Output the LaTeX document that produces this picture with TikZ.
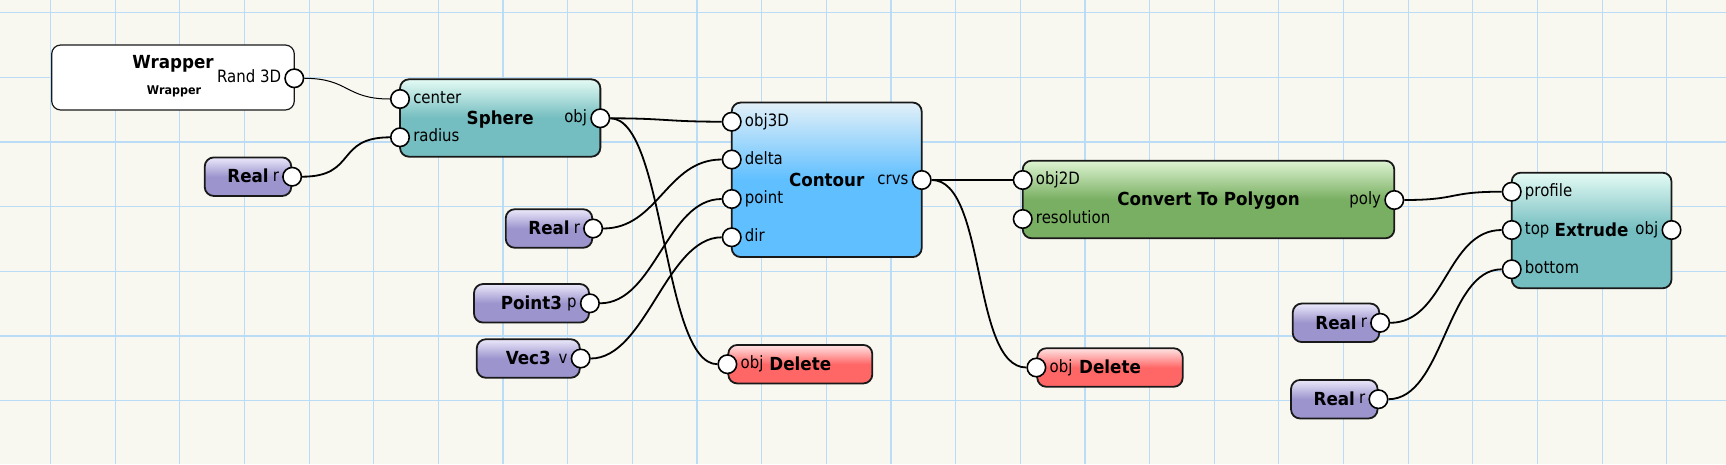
\documentclass[tikz,border=0pt]{standalone}
\usepackage{fontspec}
\setmainfont{DejaVu Sans}[FakeStretch=0.88, BoldFeatures={FakeStretch=0.93}]
\usetikzlibrary{positioning}
\definecolor{paper}{RGB}{248,248,240}
\definecolor{gridblue}{RGB}{187,220,246}
\definecolor{realtop}{RGB}{234,232,250}
\definecolor{realbot}{RGB}{156,148,205}
\definecolor{tealtop}{RGB}{228,251,244}
\definecolor{tealbot}{RGB}{116,189,192}
\definecolor{bluetop}{RGB}{226,240,248}
\definecolor{bluebot}{RGB}{96,191,255}
\definecolor{greentop}{RGB}{222,244,210}
\definecolor{greenbot}{RGB}{121,175,98}
\definecolor{redtop}{RGB}{255,228,228}
\definecolor{redbot}{RGB}{255,103,103}

\tikzset{
  block/.style={draw=black!90, line width=1.8pt, rounded corners=9pt, inner sep=0pt,
    font=\bfseries\fontsize{18}{18}\selectfont, text height=16.5pt, text depth=4pt},
  realbox/.style={block, top color=realtop, bottom color=realbot, middle color=realbot,
    minimum width=86.5pt, minimum height=38.5pt},
  tealbox/.style={block, top color=tealtop, bottom color=tealbot, middle color=tealbot},
  bluebox/.style={block, top color=bluetop, bottom color=bluebot, middle color=bluebot},
  greenbox/.style={block, top color=greentop, bottom color=greenbot, middle color=greenbot},
  redbox/.style={block, top color=redtop, bottom color=redbot, middle color=redbot,
    minimum width=144pt, minimum height=38.5pt},
  port/.style={circle, draw=black, fill=white, line width=1.6pt, minimum size=18.5pt, inner sep=0pt},
  plab/.style={inner sep=0pt, font=\fontsize{17}{17}\selectfont, text height=13pt, text depth=3.7pt},
  wire/.style={line width=1.8pt},
}

\begin{document}
\begin{tikzpicture}[x=1pt, y=-1pt]
% Paper and grid
\fill[paper, use as bounding box] (0,0) rectangle (1726,464);
\foreach \i in {0,...,25}
    \draw[gridblue, line width=1.2pt] (50.5+64.65*\i, 0) -- (50.5+64.65*\i, 464);
\foreach \j in {0,...,6}
    \draw[gridblue, line width=1.2pt] (0, 12.7+64.65*\j) -- (1726, 12.7+64.65*\j);

% Blocks
\node[block, fill=white, line width=1.2pt, minimum width=242.6pt, minimum height=65pt] (wrap) at (173,77.5) {};
\node[font=\bfseries\fontsize{18}{18}\selectfont, inner sep=0pt] (wrap-t) at (173,64) {Wrapper};
\node[font=\bfseries\fontsize{12}{12}\selectfont, inner sep=0pt] (wrap-s) at (174,91) {Wrapper};
\node[tealbox, minimum width=200.3pt, minimum height=77.4pt] (sph) at (500.2,118) {Sphere};
\node[realbox] (r1) at (248,176.7) {Real};
\node[bluebox, minimum width=190pt, minimum height=154.5pt] (cnt) at (826.7,179.8) {Contour};
\node[realbox] (r2) at (549,228.5) {Real};
\node[realbox, minimum width=115pt] (pt) at (531.5,303.3) {Point3};
\node[realbox, minimum width=103pt] (vec) at (528.3,358.5) {Vec3};
\node[redbox] (del1) at (800.3,364.2) {Delete};
\node[greenbox, minimum width=371.6pt, minimum height=77.6pt] (poly) at (1208.5,199.5) {Convert To Polygon};
\node[redbox, minimum width=145.4pt] (del2) at (1110,367.5) {Delete};
\node[tealbox, minimum width=159.8pt, minimum height=115.6pt] (ext) at (1591.6,230.5) {Extrude};
\node[realbox] (r3) at (1336,322.8) {Real};
\node[realbox] (r4) at (1334.3,399.2) {Real};

% Ports
\node[port] (wrap-o) at (294.3,78.3) {};
\node[port] (sph-c) at (400,99) {};
\node[port] (sph-r) at (400,137.3) {};
\node[port] (sph-o) at (600.3,118.3) {};
\node[port] (r1-o) at (r1.east) {};
\node[port] (cnt-a) at (731.7,121.7) {};
\node[port] (cnt-b) at (731.7,159.5) {};
\node[port] (cnt-c) at (731.7,199) {};
\node[port] (cnt-d) at (731.7,237.3) {};
\node[port] (cnt-o) at (921.7,180) {};
\node[port] (r2-o) at (r2.east) {};
\node[port] (pt-o) at (pt.east) {};
\node[port] (vec-o) at (vec.east) {};
\node[port] (del1-i) at (del1.west) {};
\node[port] (poly-a) at (1022.7,180) {};
\node[port] (poly-b) at (1022.7,219) {};
\node[port] (poly-o) at (1394.3,200) {};
\node[port] (del2-i) at (del2.west) {};
\node[port] (ext-a) at (1511.7,191.7) {};
\node[port] (ext-b) at (1511.7,230) {};
\node[port] (ext-c) at (1511.7,269.3) {};
\node[port] (ext-o) at (1671.5,230) {};
\node[port] (r3-o) at (r3.east) {};
\node[port] (r4-o) at (r4.east) {};

% Port labels
\node[plab, left=3pt of wrap-o] (l-rand) {Rand 3D};
\node[plab, right=3pt of sph-c] (l-cen) {center};
\node[plab, right=3pt of sph-r] (l-rad) {radius};
\node[plab, left=3pt of sph-o] (l-sobj) {obj};
\node[plab, right=3pt of cnt-a] (l-o3) {obj3D};
\node[plab, right=3pt of cnt-b] (l-del) {delta};
\node[plab, right=3pt of cnt-c] (l-pnt) {point};
\node[plab, right=3pt of cnt-d] (l-dir) {dir};
\node[plab, left=3pt of cnt-o] (l-crv) {crvs};
\node[plab, right=3pt of poly-a] (l-o2) {obj2D};
\node[plab, right=3pt of poly-b] (l-res) {resolution};
\node[plab, left=3pt of poly-o] (l-poly) {poly};
\node[plab, right=3pt of ext-a] (l-prof) {profile};
\node[plab, right=3pt of ext-b] (l-top) {top};
\node[plab, right=3pt of ext-c] (l-bot) {bottom};
\node[plab, left=3pt of ext-o] (l-eobj) {obj};
\node[plab, right=3pt of del1-i] (l-d1) {obj};
\node[plab, right=3pt of del2-i] (l-d2) {obj};
\foreach \p in {r1-o, r2-o, r3-o, r4-o}
    \node[plab, left=3pt of \p] {r};
\node[plab, left=3pt of pt-o] (l-p) {p};
\node[plab, left=3pt of vec-o] (l-v) {v};

% Wires
\draw[line width=1pt] (wrap-o.east) .. controls +(45,0) and +(-45,0) .. (sph-c.west);
\foreach \a/\b in {r1-o/sph-r, sph-o/cnt-a, sph-o/del1-i, r2-o/cnt-b, pt-o/cnt-c,
                   vec-o/cnt-d, cnt-o/poly-a, cnt-o/del2-i, poly-o/ext-a, r3-o/ext-b, r4-o/ext-c}
    \draw[wire] (\a.east) .. controls +(55,0) and +(-55,0) .. (\b.west);
\end{tikzpicture}
\end{document}
